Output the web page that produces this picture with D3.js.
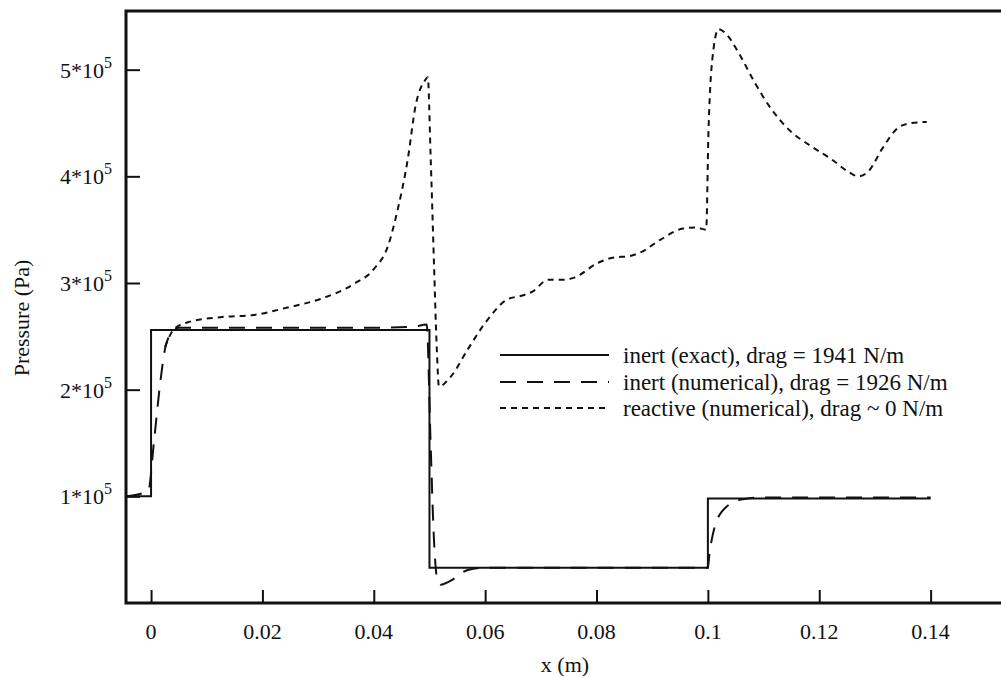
<!DOCTYPE html>
<html>
<head>
<meta charset="utf-8">
<script src="https://cdn.jsdelivr.net/npm/d3@7"></script>
<style>
body { margin: 0; background: #fff; }
text { font-family: "Liberation Serif", "Times New Roman", serif; fill: #111; }
</style>
</head>
<body>
<svg width="1001" height="677"></svg>
<script>
// values (x in m, pressure in Pa)
var exactX = [-0.0045, 0, 0, 0.05, 0.05, 0.1, 0.1, 0.14];
var exactP = [1.0e5, 1.0e5, 2.56e5, 2.56e5, 0.33e5, 0.33e5, 0.98e5, 0.98e5];

var inertX = [-0.0045, -0.0005, 0.0005, 0.0015, 0.0025, 0.0035, 0.005, 0.01, 0.02, 0.03, 0.04, 0.047, 0.0495, 0.0502, 0.0508, 0.0514, 0.052, 0.0535, 0.0569, 0.06, 0.07, 0.08, 0.09, 0.1, 0.1003, 0.1024, 0.106, 0.11, 0.14];
var inertP = [1.0e5, 1.05e5, 1.5e5, 2.0e5, 2.38e5, 2.52e5, 2.58e5, 2.58e5, 2.58e5, 2.58e5, 2.58e5, 2.59e5, 2.61e5, 1.5e5, 0.6e5, 0.22e5, 0.17e5, 0.2e5, 0.31e5, 0.33e5, 0.33e5, 0.33e5, 0.33e5, 0.33e5, 0.47e5, 0.85e5, 0.97e5, 0.99e5, 0.99e5];

var reactX = [0.0025, 0.004, 0.0065, 0.0124, 0.0184, 0.0245, 0.0304, 0.0364, 0.040, 0.0425, 0.0443, 0.0461, 0.0475, 0.0492, 0.0497, 0.0502, 0.0508, 0.0513, 0.0517, 0.0538, 0.0569, 0.0605, 0.0641, 0.0665, 0.0685, 0.0713, 0.0742, 0.076, 0.0803, 0.0832, 0.0857, 0.088, 0.0916, 0.0955, 0.0979, 0.0997, 0.1001, 0.101, 0.1019, 0.103, 0.1055, 0.1084, 0.1114, 0.1145, 0.1186, 0.1222, 0.1253, 0.127, 0.1289, 0.1312, 0.1343, 0.1366, 0.1393];
var reactP = [2.40e5, 2.56e5, 2.63e5, 2.68e5, 2.70e5, 2.77e5, 2.85e5, 2.99e5, 3.13e5, 3.34e5, 3.69e5, 4.16e5, 4.66e5, 4.90e5, 4.93e5, 4.2e5, 3.2e5, 2.4e5, 2.03e5, 2.12e5, 2.38e5, 2.66e5, 2.85e5, 2.88e5, 2.92e5, 3.03e5, 3.03e5, 3.05e5, 3.19e5, 3.24e5, 3.25e5, 3.29e5, 3.41e5, 3.51e5, 3.52e5, 3.50e5, 4.41e5, 5.19e5, 5.38e5, 5.35e5, 5.16e5, 4.88e5, 4.63e5, 4.44e5, 4.28e5, 4.16e5, 4.04e5, 4.00e5, 4.05e5, 4.25e5, 4.46e5, 4.50e5, 4.51e5];

var xTicks = [0, 0.02, 0.04, 0.06, 0.08, 0.1, 0.12, 0.14];
var xTickLabels = ["0", "0.02", "0.04", "0.06", "0.08", "0.1", "0.12", "0.14"];
var yTicks = [1e5, 2e5, 3e5, 4e5, 5e5];
var yTickMantissa = ["1", "2", "3", "4", "5"];

var legendLabels = ["inert (exact), drag = 1941 N/m",
                    "inert (numerical), drag = 1926 N/m",
                    "reactive (numerical), drag ~ 0 N/m"];
var dashes = [null, "16,11", "6,5"];

var svg = d3.select("svg");
var mLeft = 126, mRight = 1003, mTop = 11, mBottom = 603;

var x = d3.scaleLinear().domain([-0.0045, 0.1530]).range([mLeft, mRight]);
var y = d3.scaleLinear().domain([0, 5.55e5]).range([mBottom, mTop]);

// series
var series = [
  {xs: exactX, ps: exactP, dash: dashes[0], curve: d3.curveLinear},
  {xs: inertX, ps: inertP, dash: dashes[1], curve: d3.curveMonotoneX},
  {xs: reactX, ps: reactP, dash: dashes[2], curve: d3.curveMonotoneX}
];

series.forEach(function(s) {
  var pts = s.xs.map(function(v, i) { return [v, s.ps[i]]; });
  var line = d3.line()
    .x(function(d) { return x(d[0]); })
    .y(function(d) { return y(d[1]); })
    .curve(s.curve);
  svg.append("path")
    .attr("d", line(pts))
    .attr("fill", "none")
    .attr("stroke", "#111")
    .attr("stroke-width", 2)
    .attr("stroke-dasharray", s.dash);
});

// axes (ticks pointing inward)
var xAxis = d3.axisTop(x).tickValues(xTicks).tickSize(13).tickFormat("");
svg.append("g").attr("transform", "translate(0," + mBottom + ")").call(xAxis)
  .call(function(g) { g.select(".domain").remove(); })
  .selectAll("line").attr("stroke", "#111").attr("stroke-width", 2);

var yAxis = d3.axisRight(y).tickValues(yTicks).tickSize(14).tickFormat("");
svg.append("g").attr("transform", "translate(" + mLeft + ",0)").call(yAxis)
  .call(function(g) { g.select(".domain").remove(); })
  .selectAll("line").attr("stroke", "#111").attr("stroke-width", 2);

// frame: left, top, bottom
svg.append("path")
  .attr("d", "M" + (mRight + 5) + "," + mTop + "H" + mLeft + "V" + mBottom + "H" + (mRight + 5))
  .attr("fill", "none")
  .attr("stroke", "#111")
  .attr("stroke-width", 3);

// tick labels
svg.selectAll(".xl").data(xTicks).enter().append("text")
  .attr("x", function(d) { return x(d); })
  .attr("y", 639)
  .attr("text-anchor", "middle")
  .style("font-size", "22px")
  .text(function(d, i) { return xTickLabels[i]; });

yTicks.forEach(function(v, i) {
  var t = svg.append("text")
    .attr("x", 112)
    .attr("y", y(v) + 8)
    .attr("text-anchor", "end")
    .style("font-size", "22px");
  t.append("tspan").text(yTickMantissa[i] + "*10");
  t.append("tspan").attr("dy", -10).style("font-size", "16px").text("5");
});

// axis titles
svg.append("text")
  .attr("x", 565).attr("y", 672)
  .attr("text-anchor", "middle")
  .style("font-size", "22px")
  .text("x (m)");

svg.append("text")
  .attr("transform", "translate(29,318) rotate(-90)")
  .attr("text-anchor", "middle")
  .style("font-size", "22px")
  .text("Pressure (Pa)");

// legend
var legendY = [355, 382, 408];
legendLabels.forEach(function(label, i) {
  svg.append("line")
    .attr("x1", 500).attr("x2", 609)
    .attr("y1", legendY[i]).attr("y2", legendY[i])
    .attr("stroke", "#111")
    .attr("stroke-width", 2)
    .attr("stroke-dasharray", dashes[i]);
  svg.append("text")
    .attr("x", 623).attr("y", legendY[i] + 8)
    .style("font-size", "23px")
    .text(label);
});
</script>
</body>
</html>
